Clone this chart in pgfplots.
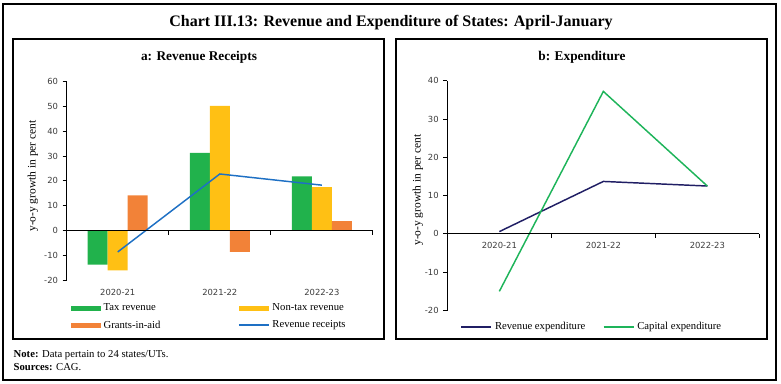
\documentclass[border=0pt]{standalone}
\usepackage{pgfplots}
\pgfplotsset{compat=1.18}
\usepackage{fontspec}
\setmainfont{Liberation Serif}
\newfontfamily\tickfont{DejaVu Sans}
\definecolor{taxg}{RGB}{33,178,76}
\definecolor{nontax}{RGB}{255,192,20}
\definecolor{grants}{RGB}{242,130,56}
\definecolor{rrblue}{RGB}{30,112,196}
\definecolor{revnavy}{RGB}{32,30,100}
\definecolor{capg}{RGB}{30,180,90}
\definecolor{ticktext}{RGB}{60,60,60}
\pgfplotsset{
  common/.style={
    scale only axis, clip=false,
    xmin=-0.5, xmax=2.5,
    axis y line*=left, x axis line style={draw=none},
    xtick={0,1,2}, xticklabels={2020-21,2021-22,2022-23},
    tick label style={font=\tickfont\fontsize{6.3}{7}\selectfont, text=ticktext},
    x tick style={draw=none}, major tick length=3pt, tick align=outside,
    y axis line style={line width=0.7pt}, y tick style={line width=0.7pt, black},
    legend style={draw=none, fill=none, font=\fontsize{8}{9.6}\selectfont, anchor=north west},
    legend cell align=left,
  }
}
\begin{document}
\begin{tikzpicture}[x=0.75pt,y=-0.75pt]
\useasboundingbox (0,0) rectangle (781,383);
\draw[line width=0.9pt] (3,4) rectangle (776,380);
\draw[line width=0.9pt] (13,39) rectangle (384,339);
\draw[line width=0.9pt] (396,39) rectangle (767,339);
\node[font=\bfseries\fontsize{12}{14}\selectfont] at (391,23) {Chart III.13: Revenue and Expenditure of States: April-January};
\node[font=\bfseries\fontsize{10}{12}\selectfont] at (199,57) {a: Revenue Receipts};
\node[font=\bfseries\fontsize{10}{12}\selectfont] at (582,57) {b: Expenditure};
\node[rotate=90, font=\fontsize{8.6}{10}\selectfont] at (33,176) {y-o-y growth in per cent};
\node[rotate=90, font=\fontsize{8.6}{10}\selectfont] at (418,190) {y-o-y growth in per cent};
\node[anchor=west, font=\fontsize{8}{9.6}\selectfont] at (9,355) {\textbf{Note:} Data pertain to 24 states/UTs.};
\node[anchor=west, font=\fontsize{8}{9.6}\selectfont] at (9,367) {\textbf{Sources:} CAG.};

\begin{axis}[common,
  at={(50.0pt,-210.2pt)}, anchor=south west,
  width=229.7pt, height=149.0pt,
  ymin=-20, ymax=60,
  axis x line*=bottom,
  ytick={-20,-10,0,10,20,30,40,50,60},
  yticklabels={-20,-10,0,10,20,30,40,50,60},
  legend columns=2,
  legend style={at={(0,-0.09)}, /tikz/every even column/.append style={column sep=56pt}, row sep=2pt},
]
\addplot[ybar, bar width=15pt, bar shift=-15pt, fill=taxg, draw=none,
  legend image code/.code={\fill[taxg] (0pt,-2pt) rectangle (22.5pt,2pt);}]
  coordinates {(0,-13.7) (1,31.3) (2,21.8)};
\addlegendentry{Tax revenue}
\addplot[ybar, bar width=15pt, bar shift=0pt, fill=nontax, draw=none,
  legend image code/.code={\fill[nontax] (0pt,-2pt) rectangle (22.5pt,2pt);}]
  coordinates {(0,-16.0) (1,50.2) (2,17.5)};
\addlegendentry{Non-tax revenue}
\addplot[ybar, bar width=15pt, bar shift=15pt, fill=grants, draw=none,
  legend image code/.code={\fill[grants] (0pt,-2pt) rectangle (22.5pt,2pt);}]
  coordinates {(0,14.2) (1,-8.6) (2,3.8)};
\addlegendentry{Grants-in-aid}
\addplot[rrblue, line width=1.1pt, mark=none,
  legend image code/.code={\draw[rrblue, line width=1.5pt] (0pt,0pt) -- (22.5pt,0pt);}]
  coordinates {(0,-8.6) (1,22.8) (2,18.3)};
\addlegendentry{Revenue receipts}
\draw[line width=0.7pt] (axis cs:-0.5,0) -- (axis cs:2.5,0);
\draw[line width=0.7pt] (axis cs:0.5,0) -- ([yshift=-3pt]axis cs:0.5,0);
\draw[line width=0.7pt] (axis cs:1.5,0) -- ([yshift=-3pt]axis cs:1.5,0);
\draw[line width=0.7pt] (axis cs:2.5,0) -- ([yshift=-3pt]axis cs:2.5,0);
\end{axis}

\begin{axis}[common,
  at={(335.5pt,-232.9pt)}, anchor=south west,
  width=234pt, height=172.4pt,
  ymin=-20, ymax=40,
  axis x line*=middle,
  ytick={-20,-10,0,10,20,30,40},
  yticklabels={-20,-10,0,10,20,30,40},
  legend columns=2,
  legend style={at={(0.028,-0.025)}, /tikz/every even column/.append style={column sep=11pt}},
]
\addplot[revnavy, line width=1.1pt, mark=none,
  legend image code/.code={\draw[revnavy, line width=1.5pt] (0pt,0pt) -- (22.5pt,0pt);}]
  coordinates {(0,0.6) (1,13.7) (2,12.5)};
\addlegendentry{Revenue expenditure}
\addplot[capg, line width=1.1pt, mark=none,
  legend image code/.code={\draw[capg, line width=1.5pt] (0pt,0pt) -- (22.5pt,0pt);}]
  coordinates {(0,-15.0) (1,37.2) (2,12.5)};
\addlegendentry{Capital expenditure}
\draw[line width=0.7pt] (axis cs:-0.5,0) -- (axis cs:2.5,0);
\draw[line width=0.7pt] (axis cs:0.5,0) -- ([yshift=-3pt]axis cs:0.5,0);
\draw[line width=0.7pt] (axis cs:1.5,0) -- ([yshift=-3pt]axis cs:1.5,0);
\draw[line width=0.7pt] (axis cs:2.5,0) -- ([yshift=-3pt]axis cs:2.5,0);
\end{axis}
\end{tikzpicture}
\end{document}
